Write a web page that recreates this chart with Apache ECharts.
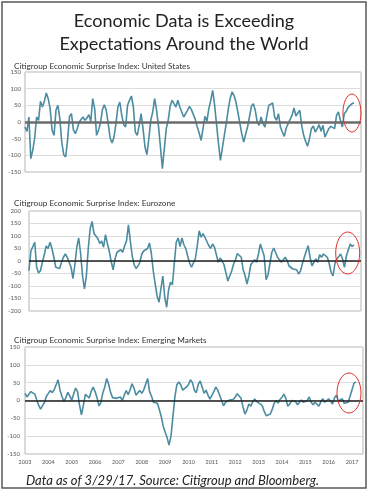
<!DOCTYPE html>
<html><head><meta charset="utf-8">
<script src="https://cdn.jsdelivr.net/npm/echarts@6/dist/echarts.min.js"></script>
<style>html,body{margin:0;padding:0;background:#fff}#c{width:368px;height:491px}</style>
</head><body><div id="c"></div>
<script>
// ---- data (monthly readings, Jan 2003 .. Mar 2017) ----
const startYear = 2003;
const yearTicks = [2003,2004,2005,2006,2007,2008,2009,2010,2011,2012,2013,2014,2015,2016,2017];
const mainTitle = 'Economic Data is Exceeding\nExpectations Around the World';
const panelTitles = [
  'Citigroup Economic Surprise Index: United States',
  'Citigroup Economic Surprise Index: Eurozone',
  'Citigroup Economic Surprise Index: Emerging Markets'
];
const footnote = 'Data as of 3/29/17. Source: Citigroup and Bloomberg.';
const usValues = [
  -15, -28, 15, -110, -85, -48, 15, 5, 62, 45,
  62, 87, 70, 40, -25, -40, 35, 50, 10, -60,
  -98, -105, -55, 17, 25, -23, -35, -20, 0, -5,
  15, 5, 12, 22, 2, 70, 40, -40, -25, -3,
  37, 52, 35, -5, -48, -63, -45, -5, 45, 60,
  20, -8, -15, 50, 65, 78, 45, -30, -40, -10,
  25, -20, -75, -98, -50, 5, 30, 70, 35, -13,
  -75, -140, -80, -20, 5, 47, 65, 55, 45, 65,
  45, 45, 15, 10, 35, 47, 37, 42, 8, -15,
  -33, -55, -20, 17, 2, 40, 65, 95, 50, -8,
  -65, -115, -78, -40, -5, 37, 70, 90, 80, 60,
  30, -3, -35, -60, -55, -15, 15, 47, 55, 35,
  0, -10, 15, -5, -15, 20, 50, 48, 57, 15,
  5, 25, -15, -30, -43, -18, -5, -10, 20, 42,
  18, 27, 35, -10, -40, -58, -73, -50, -20, -12,
  -30, -20, -8, -28, -10, -45, -40, -20, -13, -10,
  -20, 20, 30, 5, -15, 25, 32, 44, 48, 55, 58
];
const ezValues = [
  -39, 40, 35, 75, -25, -48, -39, -5, 25, 60,
  50, 75, 50, 15, -25, -20, -30, -5, 15, 28,
  15, 20, -25, -70, -15, 55, 92, 30, -60, -112,
  -60, 50, 130, 158, 110, 100, 90, 70, 80, 55,
  105, 70, 38, -3, -35, 8, 35, 30, 45, 35,
  60, 80, 145, 80, 20, -15, -30, -20, -5, 28,
  40, 45, 50, 72, 30, -40, -92, -140, -165, -110,
  -60, -145, -185, -115, -85, -95, -10, 75, 92, 58,
  92, 65, 50, 20, -8, -25, -30, 10, 60, 121,
  95, 110, 95, 90, 62, 50, 68, 55, 25, -5,
  12, 0, -15, -10, -80, -85, -40, -12, 5, 30,
  35, 15, -35, -58, -92, -60, -15, -10, 5, -5,
  28, 68, 72, 20, -75, -55, -10, 35, 52, 45,
  15, 5, -5, -12, 15, 2, -20, -25, -32, -39,
  -35, -52, -40, -10, 15, 40, 61, 15, -19, -5,
  8, -5, 25, 15, 28, 21, 15, -10, -45, -60,
  -10, 8, 15, 28, 8, -25, 20, 45, 68, 58, 65
];
const emValues = [
  20, 10, 15, 25, 29, 18, 2, -13, -24, -25,
  -5, 12, 20, 28, 22, 30, 35, 58, 29, 11,
  -3, 8, 23, 13, 1, 18, 35, 25, -12, -40,
  -13, 17, 14, 7, 25, 38, 25, 8, -15, -5,
  22, 38, 62, 45, 22, 8, 10, 6, 2, 10,
  0, 15, 28, 16, 30, 47, 35, 15, 22, 28,
  20, 30, 33, 62, 25, 12, -5, 0, -8, -25,
  -45, -72, -88, -104, -125, -100, -45, 10, 44, 52,
  44, 29, 25, 38, 45, 58, 50, 29, 22, 45,
  55, 38, 20, 29, 15, 4, 8, 25, 38, 29,
  30, 0, -15, -5, -7, 1, -2, 3, 10, 19,
  15, 6, -18, -38, -27, -10, -16, -3, 4, -3,
  -5, -10, -16, -32, -43, -48, -38, -25, -8, 0,
  -7, 3, 9, 18, 6, -16, -10, 0, -5, -3,
  -12, -5, 1, -5, -6, 0, 10, -5, -12, -5,
  -10, -16, -3, 5, -5, -10, 5, 8, -10, 8,
  15, -2, -5, 5, -8, -13, -5, 12, 30, 48, 52
];
const yRanges = [[-150, 150], [-200, 200], [-150, 150]];
const highlightCenters = [[2017.08, 27], [2016.89, 32], [2016.87, 21]];

// ---- chart ----
const chart = echarts.init(document.getElementById('c'), null, {renderer: 'canvas'});
const toPairs = vals => vals.map((v, i) => [startYear + i / 12, v]);
const seriesData = [usValues, ezValues, emValues].map(toPairs);

const grids = [
  {left: 25, top: 72, width: 336, height: 100},
  {left: 29, top: 211, width: 332, height: 100},
  {left: 25, top: 347, width: 338, height: 107}
];
const labelMargins = [4, 8, 5];
const zeroStyles = [
  {color: '#6b6b6b', width: 2.5},
  {color: '#1e1e1e', width: 1.5},
  {color: '#1e1e1e', width: 1.5}
];
const titleTops = [57, 194, 331];
const fontFam = 'Lato, "Open Sans", sans-serif';

const option = {
  animation: false,
  backgroundColor: '#fff',
  title: [
    {text: mainTitle, left: 'center', top: 5,
     textStyle: {fontFamily: fontFam, fontSize: 18, fontWeight: 'normal', color: '#222', lineHeight: 23}},
    ...panelTitles.map((t, i) => ({text: t, left: 9, top: titleTops[i],
      textStyle: {fontFamily: fontFam, fontSize: 8.2, fontWeight: 'normal', color: '#333'}})),
    {text: footnote, left: 21, top: 469,
     textStyle: {fontFamily: fontFam, fontSize: 13, fontStyle: 'italic', fontWeight: 'normal', color: '#222'}}
  ],
  grid: grids.map(g => Object.assign({show: true, borderColor: '#b5b5b5', borderWidth: 1, backgroundColor: 'transparent'}, g)),
  xAxis: grids.map((g, i) => ({
    type: 'value', gridIndex: i, min: yearTicks[0], max: 2017.47, interval: 1,
    axisLine: {show: false}, axisTick: {show: false}, splitLine: {show: false},
    axisLabel: {show: i === 2, showMaxLabel: false, margin: 5, fontSize: 5.5, color: '#555', fontFamily: fontFam,
      formatter: v => (Number.isInteger(v) && yearTicks.includes(v)) ? String(v) : ''}
  })),
  yAxis: grids.map((g, i) => ({
    type: 'value', gridIndex: i, min: yRanges[i][0], max: yRanges[i][1], interval: 50,
    axisLine: {show: false}, axisTick: {show: false},
    splitLine: {show: true, lineStyle: {color: '#dcdcdc', width: 1}},
    axisLabel: {margin: labelMargins[i], fontSize: 6, color: '#555', fontFamily: fontFam}
  })),
  series: seriesData.map((d, i) => ({
    type: 'line', xAxisIndex: i, yAxisIndex: i, data: d, showSymbol: false, symbol: 'none',
    lineStyle: {color: '#4b8ca0', width: 1.6}, silent: true,
    markLine: {silent: true, symbol: ['none', 'none'], label: {show: false},
      lineStyle: Object.assign({type: 'solid'}, zeroStyles[i]), data: [{yAxis: 0}]}
  }))
};
chart.setOption(option);

const radii = [[9, 19], [12, 21], [12, 20]];
const gfx = [{type: 'rect', shape: {x: 2, y: 2, width: 364, height: 486},
  style: {fill: 'none', stroke: '#5a5a5a', lineWidth: 1.5}, silent: true}];
highlightCenters.forEach((c, i) => {
  const p = chart.convertToPixel({gridIndex: i}, c);
  gfx.push({type: 'ellipse', shape: {cx: p[0], cy: p[1], rx: radii[i][0], ry: radii[i][1]},
    style: {fill: 'none', stroke: '#e0302a', lineWidth: 1}, silent: true, z: 10});
});
chart.setOption({graphic: gfx});
</script></body></html>
